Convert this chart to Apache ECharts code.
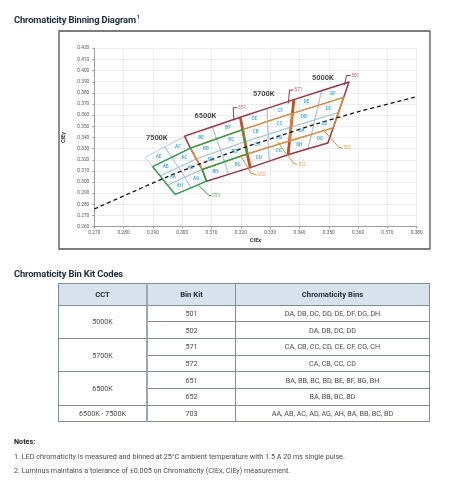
<!DOCTYPE html>
<html><head><meta charset="utf-8">
<script src="https://cdn.jsdelivr.net/npm/echarts@6/dist/echarts.min.js"></script>
<style>
html,body{margin:0;padding:0;background:#fff;}
#page{position:relative;width:470px;height:500px;overflow:hidden;font-family:Roboto,"Noto Sans",sans-serif;}
#chart{position:absolute;left:0;top:0;width:470px;height:500px;}
.h{position:absolute;left:14px;font-weight:700;font-size:9.4px;line-height:10px;color:#1d2a3b;white-space:nowrap;letter-spacing:-0.15px;}
.h .sp{font-size:5.2px;position:relative;top:-3.5px;margin-left:1px;}
#tbl{position:absolute;left:58px;top:282.5px;width:372px;border-collapse:collapse;table-layout:fixed;font-size:7.2px;color:#4a4a4a;}
#tbl th,#tbl td{border:1px solid #7f8c9b;text-align:center;padding:0;white-space:nowrap;}
#tbl th{background:#d8e2ed;color:#1f2a36;font-weight:700;font-size:7.7px;height:21px;}
#tbl td{height:15.7px;}
#tbl .c2{border-left:2px solid #9aa6b3;}
.n{position:absolute;left:14px;font-size:7.2px;line-height:10px;color:#4a4a4a;white-space:nowrap;}
</style></head>
<body><div id="page">
<div id="chart"></div>
<div class="h" style="top:14.5px">Chromaticity Binning Diagram<span class="sp">1</span></div>
<div class="h" style="top:269px">Chromaticity Bin Kit Codes</div>
<table id="tbl"></table>
<div class="n" id="n0" style="top:436.5px;font-weight:700;color:#222"></div>
<div class="n" id="n1" style="top:451.5px"></div>
<div class="n" id="n2" style="top:466px"></div>
</div>
<script>
// ---------- data ----------
const xMin = 0.27, xMax = 0.38, yMin = 0.26, yMax = 0.42, tickStep = 0.01;
const cctNames = ['7500K', '6500K', '5700K', '5000K'];
const cctLabelX = [0.2913, 0.3079, 0.3278, 0.3480];
const cctLabelY = [0.3393, 0.3593, 0.3787, 0.3929];
// isotherm edges of the bin grid, 5 nodes each (top -> bottom)
const edge0 = [[0.2873,0.3221],[0.2899,0.3138],[0.2925,0.3055],[0.2950,0.2972],[0.2976,0.2889]];
const edge1 = [[0.2941,0.3317],[0.2964,0.3221],[0.2987,0.3132],[0.3009,0.3043],[0.3030,0.2949]];
const edge2 = [[0.3008,0.3412],[0.3028,0.3304],[0.3048,0.3208],[0.3068,0.3113],[0.3083,0.3008]];
const edge3 = [[0.3103,0.3497],[0.3117,0.3388],[0.3131,0.3285],[0.3145,0.3183],[0.3158,0.3069]];
const edge4 = [[0.3198,0.3581],[0.3206,0.3471],[0.3214,0.3362],[0.3222,0.3252],[0.3232,0.3130]];
const edge5 = [[0.3290,0.3661],[0.3291,0.3544],[0.3293,0.3428],[0.3294,0.3311],[0.3297,0.3188]];
const edge6 = [[0.3381,0.3740],[0.3376,0.3616],[0.3371,0.3493],[0.3366,0.3369],[0.3361,0.3246]];
const edge7 = [[0.3475,0.3819],[0.3464,0.3688],[0.3452,0.3559],[0.3441,0.3428],[0.3429,0.3299]];
const edge8 = [[0.3569,0.3897],[0.3551,0.3760],[0.3533,0.3624],[0.3515,0.3487],[0.3497,0.3351]];
const binCodesA = [['AE','AF'],['AB','AC'],['AA','AD'],['AH','AG']];
const binCodesB = [['BE','BF'],['BB','BC'],['BA','BD'],['BH','BG']];
const binCodesC = [['CE','CF'],['CB','CC'],['CA','CD'],['CH','CG']];
const binCodesD = [['DE','DF'],['DB','DC'],['DA','DD'],['DH','DG']];
const planckX = [0.2700, 0.2807, 0.2952, 0.3064, 0.3135, 0.3221, 0.3325, 0.3451, 0.3608, 0.3800];
const planckY = [0.2759, 0.2884, 0.3051, 0.3166, 0.3236, 0.3318, 0.3408, 0.3516, 0.3636, 0.3766];
const kitNames = ['651', '571', '501', '652', '572', '502', '703'];
const leader651 = [[0.3176,0.3555],[0.3174,0.3667],[0.3188,0.3667]];
const leader571 = [[0.3362,0.3705],[0.3366,0.3826],[0.3380,0.3826]];
const leader501 = [[0.3553,0.3868],[0.3561,0.3956],[0.3574,0.3956]];
const leader652 = [[0.3198,0.3243],[0.3234,0.3082],[0.3254,0.3062]];
const leader572 = [[0.3325,0.3360],[0.3379,0.3171],[0.3393,0.3158]];
const leader502 = [[0.3485,0.3458],[0.3533,0.3315],[0.3547,0.3303]];
const leader703 = [[0.3056,0.2970],[0.3090,0.2884],[0.3099,0.2878]];
const tableHeaders = ['CCT', 'Bin Kit', 'Chromaticity Bins'];
const tableCCT = ['5000K', '5700K', '6500K', '6500K - 7500K'];
const tableCCTSpan = [2, 2, 2, 1];
const tableKits = ['501', '502', '571', '572', '651', '652', '703'];
const tableBins = ['DA, DB, DC, DD, DE, DF, DG, DH', 'DA, DB, DC, DD', 'CA, CB, CC, CD, CE, CF, CG, CH', 'CA, CB, CC, CD', 'BA, BB, BC, BD, BE, BF, BG, BH', 'BA, BB, BC, BD', 'AA, AB, AC, AD, AG, AH, BA, BB, BC, BD'];
const notesTitle = 'Notes:';
const note1 = '1. LED chromaticity is measured and binned at 25°C ambient temperature with 1.5 A 20 ms single pulse.';
const note2 = '2. Luminus maintains a tolerance of ±0.005 on Chromaticity (CIEx, CIEy) measurement.';

// ---------- styles ----------
const C_MAROON = '#9a3848', C_ORANGE = '#dc8a33', C_GREEN = '#2f9c48', C_GRID = '#a2bfdb', C_LABEL = '#23a0d0', C_THICK = '#c2502a';

// ---------- HTML parts ----------
(function(){
  const t = document.getElementById('tbl');
  let h = '<colgroup><col style="width:88.5px"><col style="width:88.5px"><col></colgroup>';
  h += '<tr>' + tableHeaders.map((s,i)=>'<th'+(i===1?' class="c2"':'')+'>'+s+'</th>').join('') + '</tr>';
  let k = 0;
  tableCCT.forEach((c, gi) => {
    for (let r = 0; r < tableCCTSpan[gi]; r++) {
      h += '<tr>';
      if (r === 0) h += '<td rowspan="' + tableCCTSpan[gi] + '">' + c + '</td>';
      h += '<td class="c2">' + tableKits[k] + '</td><td>' + tableBins[k] + '</td></tr>';
      k++;
    }
  });
  t.innerHTML = h;
  document.getElementById('n0').textContent = notesTitle;
  document.getElementById('n1').textContent = note1;
  document.getElementById('n2').textContent = note2;
})();

// ---------- chart ----------
const edges = [edge0, edge1, edge2, edge3, edge4, edge5, edge6, edge7, edge8];
const codes = [binCodesA, binCodesB, binCodesC, binCodesD];
const bins = [];
for (let g = 0; g < 4; g++) for (let r = 0; r < 4; r++) for (let c = 0; c < 2; c++) {
  const L = edges[2*g + c], R = edges[2*g + c + 1];
  const pts = [L[r], R[r], R[r+1], L[r+1]];
  const cx = pts.reduce((s,p)=>s+p[0],0)/4, cy = pts.reduce((s,p)=>s+p[1],0)/4;
  bins.push({pts, cx, cy, code: codes[g][r][c]});
}
function groupOutline(g, r0, r1) {
  const L = edges[2*g], M = edges[2*g+1], R = edges[2*g+2];
  const p = [L[r0], M[r0], R[r0]];
  for (let r = r0 + 1; r <= r1; r++) p.push(R[r]);
  p.push(M[r1], L[r1]);
  for (let r = r1 - 1; r >= r0; r--) p.push(L[r]);
  return p;
}
const outline703 = [edge0[1], edge1[1], edge2[1], edge3[1], edge4[1], edge4[2], edge4[3], edge3[3], edge2[3], edge2[4], edge1[4], edge0[4], edge0[3], edge0[2], edge0[1]];

function lineSeries(data, color, width, z, dash) {
  return {type:'line', data, showSymbol:false, silent:true, z, animation:false,
    lineStyle:{color, width, type: dash || 'solid'}};
}
const series = [];
series.push({
  type:'custom', z:3, silent:true, animation:false,
  data: bins.map((b,i)=>[b.cx, b.cy, i]),
  renderItem: function(params, api){
    const b = bins[api.value(2)];
    const pts = b.pts.map(p=>api.coord(p));
    return {type:'polygon', shape:{points:pts}, style:{fill:'none', stroke:C_GRID, lineWidth:0.8}};
  }
});
for (let g = 1; g < 4; g++) series.push(lineSeries(groupOutline(g,0,4), C_MAROON, 1.5, 5));
series.push(lineSeries(edge4, C_THICK, 2.8, 6));
series.push(lineSeries(edge6, C_THICK, 2.8, 6));
for (let g = 1; g < 4; g++) series.push(lineSeries(groupOutline(g,1,3), C_ORANGE, 1.4, 7));
series.push(lineSeries(outline703, C_GREEN, 1.4, 8));
series.push(lineSeries(planckX.map((x,i)=>[x, planckY[i]]), '#111', 1.3, 9, [4,3]));
series[series.length-1].smooth = 0.3;
const leaders = [leader651, leader571, leader501, leader652, leader572, leader502, leader703];
const leaderColors = [C_MAROON, C_MAROON, C_MAROON, C_ORANGE, C_ORANGE, C_ORANGE, C_GREEN];
leaders.forEach((ld,i)=>series.push(lineSeries(ld, leaderColors[i], 1, 10)));
series.push({
  type:'scatter', z:11, silent:true, animation:false, symbolSize:0,
  data: leaders.map((ld,i)=>({value: ld[ld.length-1], label:{formatter: kitNames[i], color: leaderColors[i]}})),
  label:{show:true, position:'right', distance:1, fontSize:4.6, fontFamily:'Roboto'}
});
// bin labels
series.push({
  type:'scatter', z:12, silent:true, animation:false, symbolSize:0,
  data: bins.map(b=>({value:[b.cx,b.cy], label:{formatter:b.code}})),
  label:{show:true, position:'inside', fontSize:4.6, fontWeight:'bold', color:C_LABEL, fontFamily:'Roboto'}
});
// CCT labels
series.push({
  type:'scatter', z:12, silent:true, animation:false, symbolSize:0,
  data: cctNames.map((n,i)=>({value:[cctLabelX[i], cctLabelY[i]], label:{formatter:n}})),
  label:{show:true, position:'inside', fontSize:7.4, fontWeight:'bold', color:'#151515', fontFamily:'Roboto'}
});

const axisCommon = {
  type:'value', interval:tickStep,
  axisLine:{show:true, lineStyle:{color:'#8a8a8a', width:0.8}},
  axisTick:{show:true, length:2, lineStyle:{color:'#8a8a8a', width:0.8}},
  splitLine:{show:true, lineStyle:{color:'#e7e7e7', width:0.8}},
  axisLabel:{fontSize:4.8, color:'#555', fontFamily:'Roboto', formatter:v=>v.toFixed(3)},
  nameLocation:'middle',
  nameTextStyle:{fontSize:5.6, fontWeight:'bold', color:'#333', fontFamily:'Roboto'}
};
const chart = echarts.init(document.getElementById('chart'), null, {renderer:'canvas'});
chart.setOption({
  animation:false,
  grid:{left:94.3, right:53.3, top:48.3, bottom:273.3, containLabel:false},
  xAxis: Object.assign({}, axisCommon, {min:xMin, max:xMax, name:'CIEx', nameGap:11,
    axisLabel:Object.assign({}, axisCommon.axisLabel, {margin:4})}),
  yAxis: Object.assign({}, axisCommon, {min:yMin, max:yMax, name:'CIEy', nameGap:24, nameRotate:90,
    axisLabel:Object.assign({}, axisCommon.axisLabel, {margin:5})}),
  graphic:[{type:'rect', shape:{x:59, y:31, width:371, height:218}, style:{fill:'none', stroke:'#525252', lineWidth:1.3}, silent:true, z:100}],
  series
});
</script>
</body></html>
